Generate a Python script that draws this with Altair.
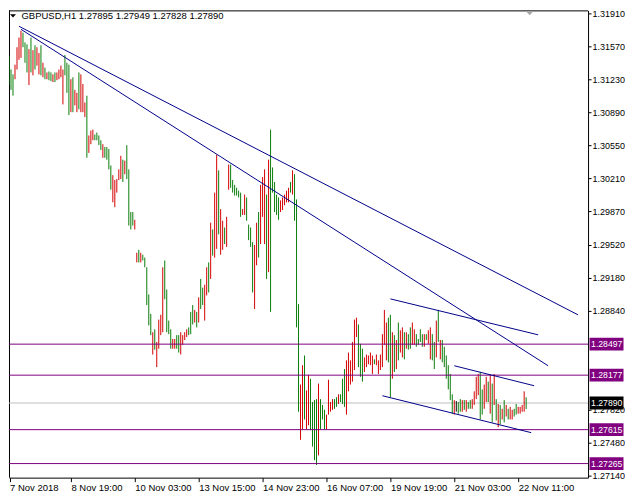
import json
import altair as alt
import pandas as pd

FONT = "Liberation Sans"
RED = "#d40000"
GREEN = "#0a7d0a"
PURPLE = "#800080"
BLUE = "#00008b"

symbol_title = "GBPUSD,H1  1.27895 1.27949 1.27828 1.27890"
date_labels = ["7 Nov 2018", "8 Nov 19:00", "10 Nov 03:00", "13 Nov 15:00", "14 Nov 23:00",
               "16 Nov 07:00", "19 Nov 19:00", "21 Nov 03:00", "22 Nov 11:00"]
date_label_bars = [1.3, 32, 64, 96, 128, 160, 192, 224, 256]
price_ticks = [1.2714, 1.2748, 1.2782, 1.2884, 1.2918, 1.2952, 1.2987,
               1.3021, 1.3055, 1.3089, 1.3123, 1.3157, 1.3191]

level_prices = [1.28497, 1.28177, 1.27615, 1.27265]
current_price = 1.27890

highs = [
    1.3142, 1.3147, 1.3133, 1.3128, 1.3138, 1.3156, 1.3166, 1.3173, 1.3171, 1.3161,
    1.3159, 1.3154, 1.3166, 1.3153, 1.3158, 1.3156, 1.3150, 1.3158, 1.3140, 1.3135,
    1.3130, 1.3131, 1.3130, 1.3128, 1.3130, 1.3130, 1.3133, 1.3137, 1.3133, 1.3148,
    1.3140, 1.3138, 1.3123, 1.3125, 1.3112, 1.3109, 1.3130, 1.3128, 1.3118, 1.3099,
    1.3106, 1.3065, 1.3070, 1.3071, 1.3066, 1.3068, 1.3065, 1.3060, 1.3056, 1.3053,
    1.3053, 1.3051, 1.3034, 1.3024, 1.3019, 1.3020, 1.3030, 1.3044, 1.3040, 1.3039,
    1.3055, 1.3030, 1.2986, 1.2986, 1.2978, 1.2944, 1.2947, 1.2944, 1.2942, 1.2939,
    1.2929, 1.2901, 1.2881, 1.2862, 1.2865, 1.2852, 1.2875, 1.2880, 1.2929, 1.2936,
    1.2906, 1.2874, 1.2865, 1.2855, 1.2855, 1.2859, 1.2859, 1.2862, 1.2859, 1.2862,
    1.2865, 1.2867, 1.2883, 1.2890, 1.2885, 1.2883, 1.2898, 1.2917, 1.2908, 1.2911,
    1.2929, 1.2934, 1.2975, 1.2968, 1.3006, 1.3045, 1.3029, 1.2989, 1.2977, 1.2970,
    1.2981, 1.3035, 1.3035, 1.3019, 1.3014, 1.3011, 1.3008, 1.3006, 1.2989, 1.3004,
    1.3001, 1.2973, 1.2970, 1.2955, 1.2952, 1.2975, 1.2986, 1.3014, 1.3022, 1.3030,
    1.3004, 1.3040, 1.3071, 1.3032, 1.3017, 1.3004, 1.3001, 1.2998, 1.3001, 1.3004,
    1.3008, 1.3011, 1.3017, 1.3029, 1.3025, 1.2999, 1.2891, 1.2808, 1.2828, 1.2838,
    1.2802, 1.2818, 1.2814, 1.2790, 1.2792, 1.2793, 1.2809, 1.2793, 1.2787, 1.2782,
    1.2777, 1.2813, 1.2790, 1.2793, 1.2793, 1.2795, 1.2798, 1.2798, 1.2814, 1.2824,
    1.2833, 1.2841, 1.2833, 1.2852, 1.2875, 1.2877, 1.2870, 1.2850, 1.2845, 1.2836,
    1.2839, 1.2838, 1.2841, 1.2838, 1.2834, 1.2839, 1.2833, 1.2839, 1.2860, 1.2885,
    1.2872, 1.2877, 1.2880, 1.2862, 1.2859, 1.2854, 1.2872, 1.2864, 1.2867, 1.2862,
    1.2862, 1.2860, 1.2867, 1.2872, 1.2865, 1.2860, 1.2855, 1.2865, 1.2860, 1.2860,
    1.2860, 1.2864, 1.2867, 1.2860, 1.2852, 1.2874, 1.2885, 1.2854, 1.2854, 1.2847,
    1.2838, 1.2828, 1.2819, 1.2798, 1.2792, 1.2791, 1.2790, 1.2793, 1.2792, 1.2792,
    1.2792, 1.2790, 1.2792, 1.2793, 1.2801, 1.2816, 1.2819, 1.2821, 1.2803, 1.2808,
    1.2816, 1.2811, 1.2818, 1.2809, 1.2819, 1.2793, 1.2788, 1.2787, 1.2783, 1.2792,
    1.2787, 1.2783, 1.2785, 1.2782, 1.2783, 1.2788, 1.2785, 1.2785, 1.2787, 1.2801,
    1.27949,
]

lows = [
    1.3109, 1.3117, 1.3112, 1.3106, 1.3123, 1.3133, 1.3143, 1.3145, 1.3156, 1.3140,
    1.3130, 1.3117, 1.3130, 1.3127, 1.3133, 1.3137, 1.3128, 1.3127, 1.3125, 1.3123,
    1.3123, 1.3122, 1.3121, 1.3120, 1.3120, 1.3122, 1.3123, 1.3125, 1.3097, 1.3127,
    1.3109, 1.3086, 1.3089, 1.3089, 1.3096, 1.3089, 1.3092, 1.3089, 1.3089, 1.3084,
    1.3042, 1.3047, 1.3056, 1.3060, 1.3060, 1.3060, 1.3055, 1.3050, 1.3042, 1.3042,
    1.3040, 1.3030, 1.3009, 1.2996, 1.2991, 1.3006, 1.3019, 1.3020, 1.3017, 1.3025,
    1.3020, 1.2972, 1.2968, 1.2972, 1.2968, 1.2934, 1.2934, 1.2934, 1.2936, 1.2929,
    1.2890, 1.2869, 1.2859, 1.2839, 1.2844, 1.2826, 1.2845, 1.2859, 1.2862, 1.2896,
    1.2862, 1.2860, 1.2845, 1.2845, 1.2845, 1.2845, 1.2841, 1.2839, 1.2849, 1.2854,
    1.2857, 1.2859, 1.2860, 1.2870, 1.2872, 1.2867, 1.2872, 1.2886, 1.2890, 1.2874,
    1.2900, 1.2903, 1.2917, 1.2941, 1.2939, 1.2948, 1.2963, 1.2942, 1.2947, 1.2953,
    1.2950, 1.3009, 1.3011, 1.3006, 1.3003, 1.3003, 1.3001, 1.2981, 1.2983, 1.2983,
    1.2977, 1.2957, 1.2950, 1.2903, 1.2886, 1.2931, 1.2939, 1.2953, 1.2981, 1.2953,
    1.2917, 1.2924, 1.2883, 1.3006, 1.2986, 1.2983, 1.2978, 1.2986, 1.2988, 1.2993,
    1.2996, 1.2996, 1.3006, 1.3004, 1.2977, 1.2867, 1.2780, 1.2751, 1.2762, 1.2772,
    1.2762, 1.2766, 1.2761, 1.2744, 1.2730, 1.2725, 1.2735, 1.2762, 1.2772, 1.2762,
    1.2762, 1.2777, 1.2780, 1.2782, 1.2783, 1.2785, 1.2788, 1.2790, 1.2788, 1.2785,
    1.2777, 1.2801, 1.2808, 1.2811, 1.2823, 1.2857, 1.2826, 1.2816, 1.2811, 1.2821,
    1.2826, 1.2829, 1.2828, 1.2819, 1.2829, 1.2828, 1.2819, 1.2823, 1.2826, 1.2849,
    1.2833, 1.2831, 1.2795, 1.2814, 1.2821, 1.2824, 1.2833, 1.2841, 1.2836, 1.2834,
    1.2845, 1.2844, 1.2845, 1.2849, 1.2849, 1.2847, 1.2849, 1.2852, 1.2847, 1.2847,
    1.2854, 1.2850, 1.2834, 1.2833, 1.2824, 1.2836, 1.2852, 1.2834, 1.2831, 1.2826,
    1.2814, 1.2803, 1.2792, 1.2778, 1.2777, 1.2780, 1.2778, 1.2780, 1.2780, 1.2782,
    1.2780, 1.2783, 1.2783, 1.2783, 1.2787, 1.2793, 1.2797, 1.2772, 1.2777, 1.2783,
    1.2790, 1.2790, 1.2778, 1.2769, 1.2787, 1.2771, 1.2764, 1.2767, 1.2772, 1.2769,
    1.2775, 1.2772, 1.2772, 1.2772, 1.2775, 1.2777, 1.2778, 1.2778, 1.2780, 1.2780,
    1.27828,
]

# r = rising bar (red), g = falling bar (green), k = unchanged (black)
directions = list(
    "rgggrrrrgg" "grgrgrrgrg" "rggrgrrrrg" "ggrgrrgrrr" "grrrggggrg"
    "gggrrrrrgr" "ggggrrgrgg" "gggrgrrrrg" "gggrrggrrr" "rgggrgrggr"
    "rgrgrrgrrg" "rrggggggrr" "ggggrrgrrr" "grgggggrrr" "rrgrgggrrg"
    "rrggggrggg" "rrrrggrggg" "rrrrrrgggr" "rrrrgrrrrr" "rggrgrgrrg"
    "rggrrggggr" "grrggrgrgg" "ggggrkggrg" "rggrrrrggr" "rgrgrgrgrg"
    "rgrrggrrrr" "g"
)

# trend lines: start bar, start price, end bar, end price
trend_x1 = [6, 7, 192, 224, 188]
trend_p1 = [1.31776, 1.31745, 1.28964, 1.28274, 1.27965]
trend_x2 = [286, 271, 266, 264, 262.5]
trend_p2 = [1.28799, 1.28274, 1.28593, 1.28068, 1.27584]

assert len(highs) == len(lows) == len(directions), (len(highs), len(lows), len(directions))

bars = pd.DataFrame({"bar": list(range(len(highs))), "high": highs, "low": lows, "dir": directions})
levels = pd.DataFrame({"price": level_prices})
current = pd.DataFrame({"price": [current_price]})
boxes = pd.DataFrame({
    "price": level_prices + [current_price],
    "kind": ["level"] * len(level_prices) + ["current"],
    "label": [f"{p:.5f}" for p in level_prices + [current_price]],
})
trends = pd.DataFrame({"x1": trend_x1, "p1": trend_p1, "x2": trend_x2, "p2": trend_p2})
title_df = pd.DataFrame({"t": [symbol_title]})
one = pd.DataFrame({"a": [0]})

xscale = alt.Scale(domain=[1.0, 291.0], nice=False, zero=False)
yscale = alt.Scale(domain=[1.2712, 1.3194], nice=False, zero=False)

label_expr = json.dumps(date_labels) + "[round(datum.value / 32)]"
xaxis = alt.Axis(values=date_label_bars, labelExpr=label_expr, orient="bottom", title=None,
                 grid=False, tickSize=4, labelAlign="left", labelPadding=1, labelFont=FONT,
                 labelFontSize=9.5, labelColor="black", domainColor="black", tickColor="black",
                 labelOverlap=False, labelFlush=False, labelBound=False)
yaxis = alt.Axis(values=price_ticks, format=".5f", orient="right", title=None, grid=False,
                 tickSize=3, labelPadding=1, labelFont=FONT, labelFontSize=9,
                 labelColor="black", domainColor="black", tickColor="black",
                 labelOverlap=False, labelFlush=False, labelBound=False)


def X(field):
    return alt.X(field, type="quantitative", scale=xscale, axis=xaxis)


def Y(field):
    return alt.Y(field, type="quantitative", scale=yscale, axis=yaxis)


# left and top edges of the chart frame (right and bottom come from the axes)
frame_left = alt.Chart(one).mark_rule(color="black", strokeWidth=1).encode(x=alt.value(0.5))
frame_top = alt.Chart(one).mark_rule(color="black", strokeWidth=1).encode(y=alt.value(0.5))

current_line = alt.Chart(current).mark_rule(color="#c0c0c0", strokeWidth=1).encode(y=Y("price"))

bar_layer = alt.Chart(bars).mark_rule(strokeWidth=1, clip=True).encode(
    x=X("bar"), y=Y("low"), y2="high",
    color=alt.Color("dir:N", scale=alt.Scale(domain=["r", "g", "k"], range=[RED, GREEN, "#000000"]),
                    legend=None),
)

level_lines = alt.Chart(levels).mark_rule(color=PURPLE, strokeWidth=1).encode(y=Y("price"))

trend_layer = alt.Chart(trends).mark_rule(color=BLUE, strokeWidth=1, clip=True).encode(
    x=X("x1"), x2="x2", y=Y("p1"), y2="p2"
)

box_layer = alt.Chart(boxes).transform_calculate(
    lo="datum.price - 0.00066", hi="datum.price + 0.00066"
).mark_rect().encode(
    x=alt.value(581.5), x2=alt.value(615.5), y=Y("lo"), y2="hi",
    fill=alt.Fill("kind:N", scale=alt.Scale(domain=["level", "current"], range=[PURPLE, "#000000"]),
                  legend=None),
)

box_text = alt.Chart(boxes).mark_text(align="left", baseline="middle", color="white",
                                      font=FONT, fontSize=8.7).encode(
    x=alt.value(583), y=Y("price"), text="label:N"
)

title_layer = alt.Chart(title_df).mark_text(align="left", baseline="alphabetic", color="black",
                                            font=FONT, fontSize=9.5).encode(
    x=alt.value(12.5), y=alt.value(9), text="t:N"
)

tri_path = "M-1,-0.55L1,-0.55L0,0.55Z"
tri_black = alt.Chart(one).mark_point(shape=tri_path, filled=True, size=36, color="black",
                                      opacity=1, strokeWidth=0).encode(x=alt.value(4), y=alt.value(5.5))
tri_gray = alt.Chart(one).mark_point(shape=tri_path, filled=True, size=49, color="#a8a8a8",
                                     opacity=1, strokeWidth=0).encode(x=alt.value(521.5), y=alt.value(3))

chart = alt.layer(
    frame_left, frame_top, current_line, bar_layer, level_lines, trend_layer, box_layer, box_text,
    title_layer, tri_black, tri_gray
).resolve_scale(color="independent", fill="independent").properties(
    width=580, height=468, padding=0, background="white"
).configure_view(strokeWidth=0)

chart.save("out.html", embed_options={"renderer": "svg", "actions": False})
